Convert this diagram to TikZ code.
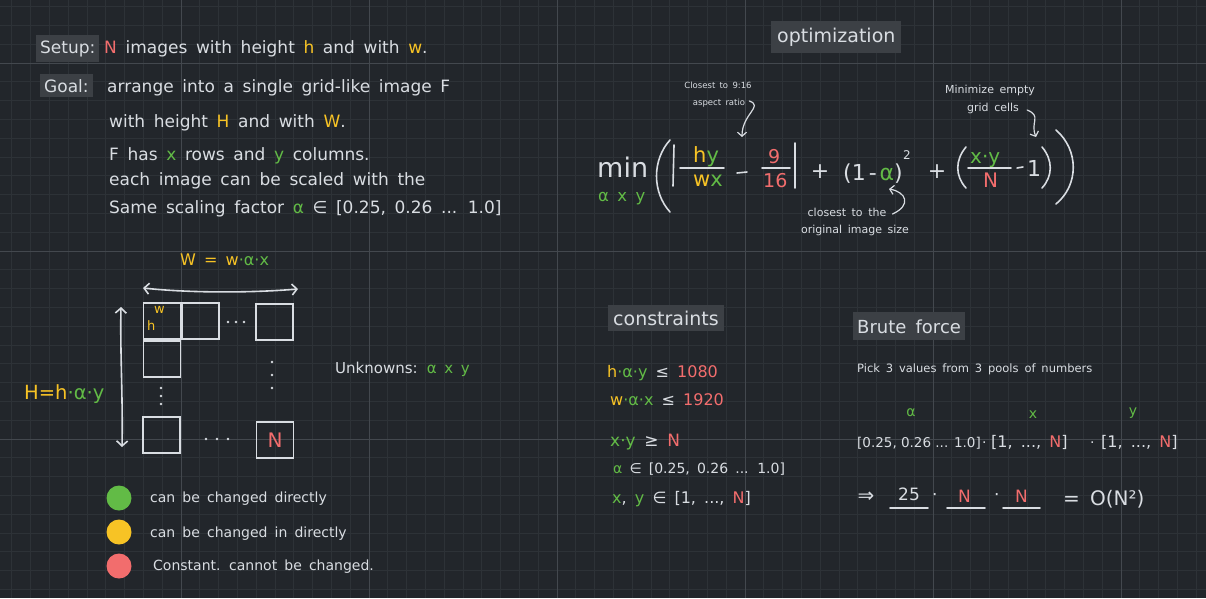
\documentclass[tikz,border=0pt]{standalone}
\usepackage{fontspec}
\setmainfont[WordSpace=1.6]{DejaVu Sans}
\newfontfamily\tightfont{DejaVu Sans}
\usetikzlibrary{arrows.meta}
\definecolor{bg}{HTML}{22262B}
\definecolor{gridminor}{HTML}{2D3237}
\definecolor{gridmajor}{HTML}{43484E}
\definecolor{ink}{HTML}{D9DDE2}
\definecolor{cy}{HTML}{F7C325}
\definecolor{cg}{HTML}{62BB46}
\definecolor{cr}{HTML}{F26D6D}
\definecolor{tagbg}{HTML}{3C4045}
\newcommand\ylw[1]{\textcolor{cy}{#1}}
\newcommand\grn[1]{\textcolor{cg}{#1}}
\newcommand\rdd[1]{\textcolor{cr}{#1}}
\newcommand\fsz[1]{\fontsize{#1}{#1}\selectfont}
\tikzset{
 t/.style={inner sep=0pt, text=ink, anchor=base west},
 body/.style={t, font=\fsz{17}},
 tag/.style={t, fill=tagbg, inner xsep=4pt, inner ysep=5pt},
 stroke/.style={draw=ink, line width=1.6pt, line cap=round},
 cell/.style={draw=ink, line width=1.6pt, minimum width=37pt, minimum height=36pt, inner sep=0pt},
 dotmark/.style={fill=ink, circle, inner sep=0pt, minimum size=2.8pt},
 barb/.style={stroke, arrows={Straight Barb[length=5pt,width=11pt]-Straight Barb[length=5pt,width=11pt]}},
 ann/.style={draw=ink, line width=1.2pt, line cap=round, arrows={-Straight Barb[length=4pt,width=9pt]}},
 legend/.style={circle, inner sep=0pt, minimum size=25pt},
}
\begin{document}
\begin{tikzpicture}[x=1pt,y=-1pt]
\useasboundingbox (0,0) rectangle (1206,598);
\fill[bg] (0,0) rectangle (1206,598);
% grid
\foreach \k in {-29,...,34} {\draw[gridminor, line width=0.8pt] ({557+18.8*\k},0) -- ({557+18.8*\k},598);}
\foreach \k in {-3,...,28} {\draw[gridminor, line width=0.8pt] (0,{63+18.8*\k}) -- (1206,{63+18.8*\k});}
\foreach \k in {-20,-10,0,10,20,30} {\draw[gridmajor, line width=1pt] ({557+18.8*\k},0) -- ({557+18.8*\k},598);}
\foreach \k in {0,10,20} {\draw[gridmajor, line width=1pt] (0,{63+18.8*\k}) -- (1206,{63+18.8*\k});}

% ---------- left text ----------
\node[tag, font=\fsz{17}] (setup) at (36,53) {Setup:};
\node[body] (l1) at (104,53) {\rdd{N} images with height \ylw{h} and with \ylw{w}.};
\node[tag, font=\fsz{17}] (goal) at (40,92) {Goal:};
\node[body] (l2) at (107,92) {arrange into a single grid-like image F};
\node[body] (l3) at (109,127) {with height \ylw{H} and with \ylw{W}.};
\node[body] (l4) at (109,160) {F has \grn{x} rows and \grn{y} columns.};
\node[body] (l5) at (109,185) {each image can be scaled with the};
\node[body] (l6) at (109,213) {Same scaling factor \grn{α} ∈ [0.25, 0.26 ... 1.0]};

% ---------- grid sketch ----------
\node[t, font=\fsz{16}] (Wlab) at (180,265) {\ylw{W = w}\grn{·α·x}};
\node[t, font=\fsz{19.5}] (Hlab) at (24,399) {\ylw{H=h}\grn{·α·y}};
\node[cell] (c11) at (162,321) {};
\node[cell] (c12) at (200.5,321) {};
\node[cell] (c1n) at (274.5,322) {};
\node[cell] (c21) at (162,359) {};
\node[cell] (cm1) at (161.5,435) {};
\node[cell] (cmn) at (275,440) {\fsz{20}\rdd{N}};
\node[t, font=\fsz{13}] (wcell) at (154,313) {\ylw{w}};
\node[t, font=\fsz{13}] (hcell) at (147,330) {\ylw{h}};
\foreach \i/\x in {a/228,b/236,c/244} {\node[dotmark] (hd\i) at (\x,322) {};}
\foreach \i/\x in {a/206,b/217,c/228} {\node[dotmark] (bd\i) at (\x,439) {};}
\foreach \i/\y in {a/388,b/396,c/404} {\node[dotmark] (vd\i) at (161,\y) {};}
\foreach \i/\y in {a/362,b/375,c/388} {\node[dotmark] (rd\i) at (272,\y) {};}
\coordinate (hL) at (143,288);
\coordinate (hR) at (298,289);
\draw[barb] (hL) .. controls (190,293) and (250,293) .. (hR);
\coordinate (vT) at (121,307);
\coordinate (vB) at (122,447);
\draw[barb] (vT) .. controls (120,350) and (123,400) .. (vB);
\node[t, font=\fsz{15}] (unk) at (335,373) {Unknowns: \grn{α x y}};

% ---------- legend ----------
\node[legend, fill=cg] (lg) at (119,498) {};
\node[legend, fill=cy] (ly) at (119,532) {};
\node[legend, fill=cr] (lr) at (119,566) {};
\node[t, font=\fsz{14}] (tg) at (150,502) {can be changed directly};
\node[t, font=\fsz{14}] (ty) at (150,537) {can be changed in directly};
\node[t, font=\fsz{14}] (tr) at (153,570) {Constant. cannot be changed.};

% ---------- optimization ----------
\node[tag, font=\fsz{19}, inner xsep=6pt, inner ysep=7pt] (opt) at (771,42) {optimization};
\node[t, font=\fsz{27}] (min) at (597,177) {min};
\node[t, font=\fsz{16.5}] (minsub) at (598,201) {\grn{α x y}};
\coordinate (bpT) at (670,140);
\coordinate (bpB) at (670,212);
\draw[stroke] (bpT) .. controls (652,160) and (652,192) .. (bpB);
\coordinate (a1T) at (674,145);
\coordinate (a1B) at (673,186);
\draw[stroke] (a1T) -- (a1B);
\node[t, font=\fsz{21}] (n1) at (693,162) {\ylw{h}\grn{y}};
\node[t, font=\fsz{21}] (d1) at (693,186) {\ylw{w}\grn{x}};
\coordinate (f1L) at (680,168);
\coordinate (f1R) at (724,168);
\draw[stroke] (f1L) -- (f1R);
\coordinate (m1L) at (737,173);
\coordinate (m1R) at (747,172);
\draw[stroke] (m1L) -- (m1R);
\node[t, font=\fsz{19}] (n2) at (768,163) {\rdd{9}};
\node[t, font=\fsz{19}] (d2) at (763,187) {\rdd{16}};
\coordinate (f2L) at (762,168);
\coordinate (f2R) at (790,168);
\draw[stroke] (f2L) -- (f2R);
\coordinate (a2T) at (795,143);
\coordinate (a2B) at (795,188);
\draw[stroke] (a2T) -- (a2B);
\node[font=\fsz{22}, text=ink, inner sep=0pt] (p1) at (820,172) {+};
\node[t, font=\fsz{22}] (sq) at (843,180) {(1\hspace{3pt}-\hspace{3pt}\grn{α})};
\node[t, font=\fsz{12}] (sq2) at (903,159) {2};
\node[font=\fsz{22}, text=ink, inner sep=0pt] (p2) at (937,172) {+};
\coordinate (spT) at (966,147);
\coordinate (spB) at (966,188);
\draw[stroke] (spT) .. controls (955,160) and (955,176) .. (spB);
\node[t, font=\fsz{20}] (n3) at (970,163) {\grn{x·y}};
\node[t, font=\fsz{20}] (d3) at (983,187) {\rdd{N}};
\coordinate (f3L) at (968,168);
\coordinate (f3R) at (1011,168);
\draw[stroke] (f3L) -- (f3R);
\coordinate (m3L) at (1017,168);
\coordinate (m3R) at (1023,167);
\draw[stroke] (m3L) -- (m3R);
\node[t, font=\fsz{22}] (one) at (1027,176) {1};
\coordinate (cpT) at (1042,147);
\coordinate (cpB) at (1042,188);
\draw[stroke] (cpT) .. controls (1053,160) and (1053,176) .. (cpB);
\coordinate (BpT) at (1056,130);
\coordinate (BpB) at (1056,204);
\draw[stroke] (BpT) .. controls (1079,150) and (1079,185) .. (BpB);

% annotations
\node[font=\fsz{8.5}, text=ink, inner sep=0pt] (ann1a) at (718,85) {Closest to 9:16};
\node[font=\fsz{8.5}, text=ink, inner sep=0pt] (ann1b) at (719,103) {aspect ratio};
\coordinate (ann1e) at (742,137);
\draw[ann] (ann1b.east) ++(4,-2) .. controls (764,106) and (742,114) .. (ann1e);
\node[font=\fsz{11}, text=ink, inner sep=0pt] (ann2a) at (990,90) {Minimize empty};
\node[font=\fsz{11}, text=ink, inner sep=0pt] (ann2b) at (993,108) {grid cells};
\coordinate (ann2e) at (1036,137);
\draw[ann] (ann2b.east) ++(8,2) .. controls (1042,116) and (1030,122) .. (ann2e);
\node[font=\fsz{11}, text=ink, inner sep=0pt] (ann3a) at (847,212) {closest to the};
\node[font=\fsz{11}, text=ink, inner sep=0pt] (ann3b) at (855,230) {original image size};
\coordinate (ann3e) at (889,189);
\draw[ann] (ann3a.east) ++(6,2) .. controls (912,205) and (906,192) .. (ann3e);

% ---------- constraints ----------
\node[tag, font=\fsz{19}, inner xsep=5pt, inner ysep=6pt] (cons) at (608,325) {constraints};
\node[t, font=\fsz{16}] (k1) at (607,377) {\ylw{h}\grn{·α·y} ≤ \rdd{1080}};
\node[t, font=\fsz{16}] (k2) at (610,405) {\ylw{w}\grn{·α·x} ≤ \rdd{1920}};
\node[t, font=\fsz{17}] (k3) at (610,446) {\grn{x·y} ≥ \rdd{N}};
\node[t, font=\fsz{14}] (k4) at (613,473) {\grn{α} ∈ [0.25, 0.26 ... 1.0]};
\node[t, font=\fsz{16}] (k5) at (612,503) {\grn{x}, \grn{y} ∈ [1, ..., \rdd{N}]};

% ---------- brute force ----------
\node[tag, font=\fsz{18}, inner xsep=4pt, inner ysep=7pt] (brute) at (853,333) {Brute force};
\node[t, font=\fsz{11.5}] (pick) at (857,372) {Pick 3 values from 3 pools of numbers};
\node[font=\fsz{14}, text=cg, inner sep=0pt] (ga) at (911,413) {α};
\node[font=\fsz{14}, text=cg, inner sep=0pt] (gx) at (1033,415) {x};
\node[font=\fsz{14}, text=cg, inner sep=0pt] (gy) at (1133,413) {y};
\node[t, font=\tightfont\fsz{13.5}] (s1) at (857,447) {[0.25, 0.26 ... 1.0]};
\node[t, font=\fsz{14}] (dt1) at (982,447) {·};
\node[t, font=\fsz{16}] (s2) at (991,447) {[1, ..., \rdd{N}]};
\node[t, font=\fsz{14}] (dt2) at (1090,447) {·};
\node[t, font=\fsz{16}] (s3) at (1101,447) {[1, ..., \rdd{N}]};
\node[font=\fsz{20}, text=ink, inner sep=0pt] (impl) at (866,497) {⇒};
\node[t, font=\fsz{17}] (b25) at (898,500) {25};
\node[t, font=\fsz{17}] (bd1) at (932,500) {·};
\node[t, font=\fsz{17}] (bN1) at (958,502) {\rdd{N}};
\node[t, font=\fsz{17}] (bd2) at (994,500) {·};
\node[t, font=\fsz{17}] (bN2) at (1015,502) {\rdd{N}};
\coordinate (u1L) at (890,508); \coordinate (u1R) at (928,508);
\coordinate (u2L) at (947,508); \coordinate (u2R) at (985,508);
\coordinate (u3L) at (1003,508); \coordinate (u3R) at (1040,508);
\draw[stroke] (u1L) -- (u1R);
\draw[stroke] (u2L) -- (u2R);
\draw[stroke] (u3L) -- (u3R);
\node[t, font=\fsz{20}] (onot) at (1063,505) {= O(N²)};
\end{tikzpicture}
\end{document}
